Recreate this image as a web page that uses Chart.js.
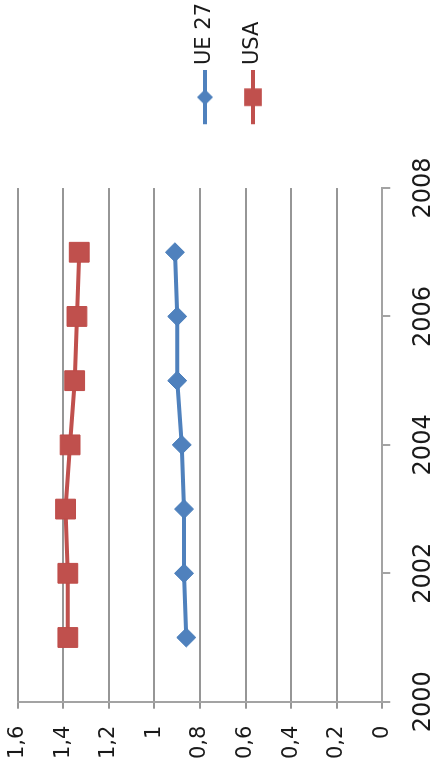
<!DOCTYPE html>
<html>
<head>
<meta charset="utf-8">
<script src="https://cdn.jsdelivr.net/npm/chart.js@4"></script>
<style>
  html, body { margin: 0; padding: 0; background: #fff; overflow: hidden; }
  /* the chart is laid out landscape and turned a quarter turn counter-clockwise */
  #wrap {
    position: absolute; left: 0; top: 0;
    width: 774px; height: 438px;
    transform-origin: 0 0;
    transform: translate(0, 774px) rotate(-90deg);
  }
</style>
</head>
<body>
<div id="wrap"><canvas id="chart" width="774" height="438"></canvas></div>
<script>
// Data
const years = [2001, 2002, 2003, 2004, 2005, 2006, 2007];
const ue27 = [0.86, 0.87, 0.87, 0.88, 0.90, 0.90, 0.91];
const usa = [1.38, 1.38, 1.39, 1.37, 1.35, 1.34, 1.33];
const seriesNames = ['UE 27', 'USA'];
const yearTickLabels = ['2000', '2002', '2004', '2006', '2008'];
const valueTickLabels = ['0', '0,2', '0,4', '0,6', '0,8', '1', '1,2', '1,4', '1,6'];

const BLUE = '#4F81BD', BLUE_EDGE = '#4A7EBB';
const RED = '#C0504D', RED_EDGE = '#BE4B48';
const TEXT = '#1a1a1a';
const GRID = '#969696';
const AXIS = '#a3a3a3';
const FONT = 'DejaVu Sans';
const LINE_W = 4;

const toPoints = vals => years.map((yr, i) => ({ x: yr, y: vals[i] }));

// Legend swatch: a short line with the series marker in its middle
function swatch(color, style, radius) {
  const c = document.createElement('canvas');
  c.width = 96; c.height = 24;
  const g = c.getContext('2d');
  g.strokeStyle = color;
  g.lineWidth = LINE_W;
  g.beginPath(); g.moveTo(42, 12); g.lineTo(96, 12); g.stroke();
  g.fillStyle = color;
  Chart.helpers.drawPoint(g, { pointStyle: style, radius: radius, borderWidth: 0 }, 69, 12);
  return c;
}

const swatches = [swatch(BLUE, 'rectRot', 8), swatch(RED, 'rect', 12.5)];

// keep label overhang from shrinking the plot area
const noOverhang = s => {
  s.paddingTop = 0; s.paddingBottom = 0; s.paddingLeft = 0; s.paddingRight = 0;
};

new Chart(document.getElementById('chart'), {
  type: 'line',
  data: {
    datasets: [
      {
        label: seriesNames[0],
        data: toPoints(ue27),
        borderColor: BLUE,
        backgroundColor: BLUE,
        borderWidth: LINE_W,
        pointStyle: 'rectRot',
        pointRadius: 9.5,
        pointBorderColor: BLUE_EDGE,
        pointBackgroundColor: BLUE,
        pointBorderWidth: 1,
        tension: 0
      },
      {
        label: seriesNames[1],
        data: toPoints(usa),
        borderColor: RED,
        backgroundColor: RED,
        borderWidth: LINE_W,
        pointStyle: 'rect',
        pointRadius: 14,
        pointBorderColor: RED_EDGE,
        pointBackgroundColor: RED,
        pointBorderWidth: 1,
        tension: 0
      }
    ]
  },
  options: {
    responsive: false,
    animation: false,
    devicePixelRatio: 1,
    layout: { padding: { left: 0, right: -7, top: 17.7, bottom: -2.3 } },
    plugins: {
      tooltip: { enabled: false },
      legend: {
        position: 'right',
        labels: {
          usePointStyle: true,
          pointStyleWidth: 85.5,
          padding: 27,
          color: TEXT,
          font: { family: FONT, size: 21 },
          generateLabels: chart =>
            Chart.defaults.plugins.legend.labels.generateLabels(chart).map((item, i) =>
              Object.assign(item, { pointStyle: swatches[i], lineWidth: 0 }))
        }
      }
    },
    scales: {
      x: {
        type: 'linear',
        min: 2000,
        max: 2008,
        afterFit: s => { noOverhang(s); s.height = 58; },
        ticks: {
          stepSize: 2,
          maxRotation: 0,
          padding: 19,
          color: TEXT,
          font: { family: FONT, size: 24 },
          callback: (v, i) => yearTickLabels[i]
        },
        grid: { drawOnChartArea: false, drawTicks: true, tickLength: 8, color: AXIS, lineWidth: 2 },
        border: { color: AXIS, width: 2 }
      },
      y: {
        min: 0,
        max: 1.6,
        afterFit: s => { noOverhang(s); s.width = 72.3; },
        ticks: {
          stepSize: 0.2,
          padding: 17,
          color: TEXT,
          font: { family: FONT, size: 21 },
          callback: (v, i) => valueTickLabels[i]
        },
        grid: { color: GRID, lineWidth: 2, tickLength: 7 },
        border: { color: AXIS, width: 2 }
      }
    }
  }
});
</script>
</body>
</html>
